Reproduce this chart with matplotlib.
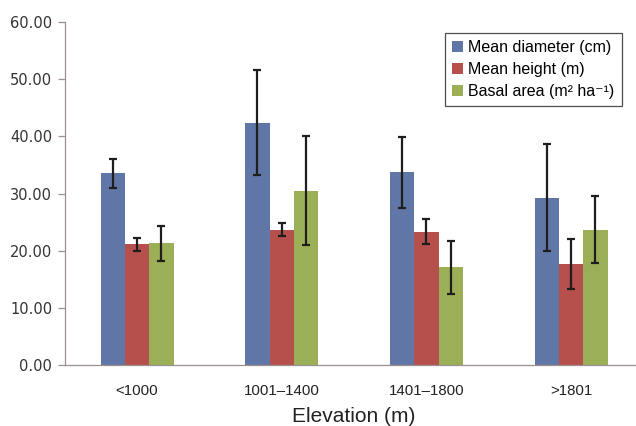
import matplotlib
matplotlib.use("Agg")
import matplotlib.pyplot as plt
import numpy as np

categories = ["<1000", "1001\u20131400", "1401\u20131800", ">1801"]
series_names = ["Mean diameter (cm)", "Mean height (m)", "Basal area (m\u00b2 ha\u207b\u00b9)"]
mean_diameter = [33.5, 42.4, 33.7, 29.3]
mean_diameter_err = [2.5, 9.2, 6.2, 9.4]
mean_height = [21.1, 23.7, 23.3, 17.7]
mean_height_err = [1.1, 1.1, 2.2, 4.4]
basal_area = [21.3, 30.5, 17.1, 23.7]
basal_area_err = [3.1, 9.5, 4.6, 5.8]
yticks = [0, 10, 20, 30, 40, 50, 60]

colors = ["#6076a6", "#b5504c", "#9bb056"]

fig = plt.figure(figsize=(6.36, 4.26), dpi=100)
ax = fig.add_axes([64.7/636, (426-365)/426, 578.8/636, 343/426])

x = np.arange(len(categories))
w = 0.168
vals = [mean_diameter, mean_height, basal_area]
errs = [mean_diameter_err, mean_height_err, basal_area_err]
for i, (v, e) in enumerate(zip(vals, errs)):
    ax.bar(x + (i - 1) * w, v, width=w, color=colors[i], label=series_names[i],
           yerr=e, error_kw=dict(ecolor="#1e1e1e", elinewidth=1.6, capsize=3.2, capthick=1.6),
           zorder=2)

ax.set_xlim(-0.5, 3.5)
ax.set_ylim(0, 60)
ax.set_yticks(yticks)
ax.set_yticklabels([f"{t:.2f}" for t in yticks], fontsize=10.5, color="#333333",
                   fontfamily="DejaVu Sans")
ax.set_xticks(x)
ax.set_xticklabels(categories, fontsize=10.8, fontfamily="Liberation Sans", color="#222222")
ax.tick_params(axis='x', length=0, pad=14)
ax.tick_params(axis='y', length=5, width=0.9, color="#9d8f8f", pad=4, direction='out')
for s in ["top", "right"]:
    ax.spines[s].set_visible(False)
for s in ["left", "bottom"]:
    ax.spines[s].set_color("#9d8f8f")
    ax.spines[s].set_linewidth(0.9)

ax.set_xlabel("Elevation (m)", fontsize=15, fontfamily="Liberation Sans", labelpad=6.5, color="#222222")

leg = ax.legend(loc="upper left", bbox_to_anchor=(445/636, 1 - (32.7/426)), bbox_transform=fig.transFigure,
                prop={"family": ["Liberation Sans", "DejaVu Sans"], "size": 11.5}, frameon=True, fancybox=False,
                edgecolor="#222222", handlelength=0.7, handleheight=0.7, handletextpad=0.3,
                labelspacing=0.45, borderpad=0.45, borderaxespad=0)
leg.get_frame().set_linewidth(0.9)

fig.savefig("out.png", dpi=100)
